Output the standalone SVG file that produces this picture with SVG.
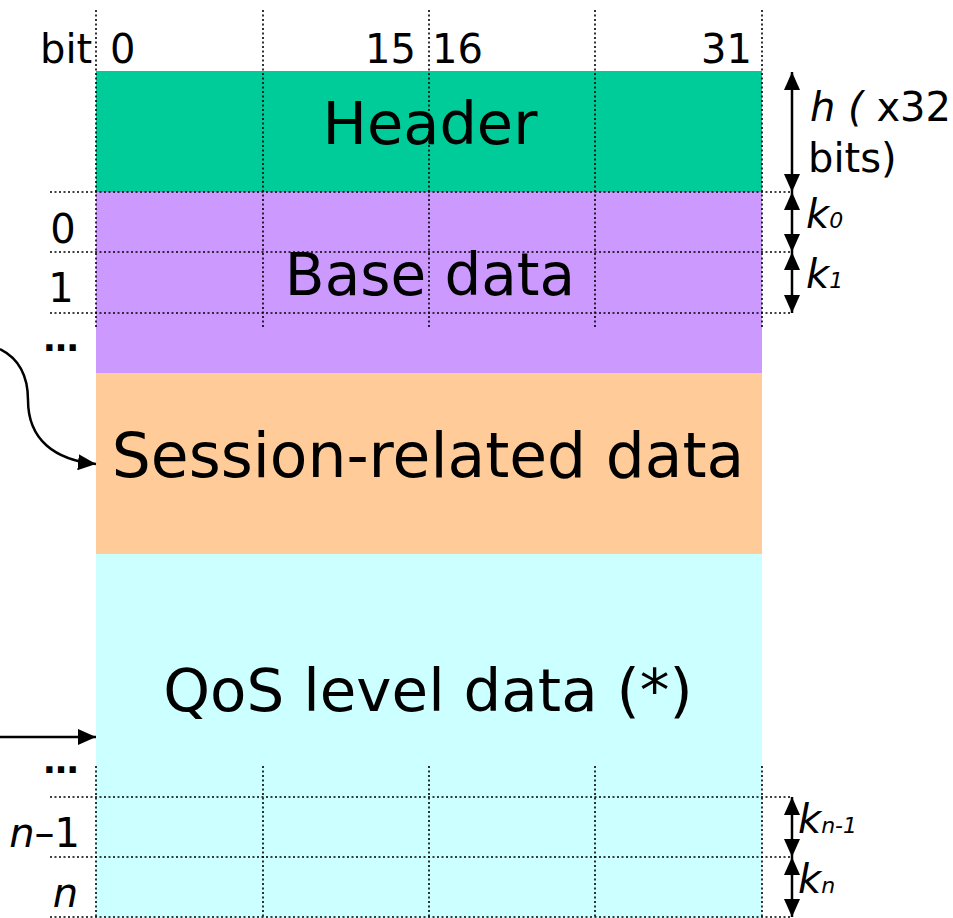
<svg xmlns="http://www.w3.org/2000/svg" width="953" height="918" viewBox="0 0 953 918">
<defs>
<marker id="ah" markerUnits="userSpaceOnUse" markerWidth="18" markerHeight="16" refX="18" refY="8" orient="auto-start-reverse">
<path d="M0,0 L18,8 L0,16 z" fill="#000"/>
</marker>
<style>
text{font-family:"DejaVu Sans","Liberation Sans",sans-serif;fill:#000}
.big{font-size:59px;text-anchor:middle}
.lbl{font-size:40px}
.dots{font-size:35px;text-anchor:middle;font-weight:bold}
.it{font-style:italic}
.sub{font-size:22px;font-style:italic}
.grid{stroke:#000;stroke-width:1.6;stroke-dasharray:2 2.5;fill:none}
.conn{stroke:#000;stroke-width:2.5;fill:none}
.dbl{marker-start:url(#ah);marker-end:url(#ah)}
.one{marker-end:url(#ah)}
</style>
</defs>
<rect width="953" height="918" fill="#fff"/>
<g id="header">
<rect x="96" y="71" width="666" height="121" fill="#00CC99"/>
<text class="big" x="430" y="144">Header</text>
</g>
<g id="base-data">
<rect x="96" y="192" width="666" height="181" fill="#CC99FF"/>
<text class="big" x="430" y="295" style="font-size:58px">Base data</text>
</g>
<g id="session-data">
<rect x="96" y="373" width="666" height="181" fill="#FFCC99"/>
<text class="big" x="428" y="477" style="font-size:61.5px">Session-related data</text>
</g>
<g id="qos-data">
<rect x="96" y="554" width="666" height="364" fill="#CCFFFF"/>
<text class="big" x="428" y="711" style="font-size:59.5px">QoS level data (*)</text>
</g>
<g id="grid">
<path class="grid" d="M96,10V327 M263,10V327 M429,10V327 M595,10V327 M762,10V327"/>
<path class="grid" d="M96,766V918 M263,766V918 M429,766V918 M595,766V918 M762,766V918"/>
<path class="grid" d="M50,192H792 M50,252H792 M50,313H792 M50,797H792 M50,857H792 M50,917H792"/>
</g>
<g id="bit-labels">
<text class="lbl" x="40" y="63">bit</text>
<text class="lbl" x="110" y="63">0</text>
<text class="lbl" x="416" y="63" text-anchor="end">15</text>
<text class="lbl" x="432" y="63">16</text>
<text class="lbl" x="752" y="63" text-anchor="end">31</text>
</g>
<g id="row-labels">
<text class="lbl" x="63" y="243" text-anchor="middle">0</text>
<text class="lbl" x="61" y="302" text-anchor="middle">1</text>
<text class="dots" x="61" y="351">…</text>
<text class="dots" x="61" y="773">…</text>
<text class="lbl" x="80" y="847" text-anchor="end"><tspan class="it">n</tspan>–1</text>
<text class="lbl it" x="78" y="907" text-anchor="end">n</text>
</g>
<g id="size-labels">
<text class="lbl" x="810" y="121"><tspan class="it">h (</tspan> x32</text>
<text class="lbl" x="808" y="172">bits)</text>
<text class="lbl" x="806" y="228"><tspan class="it">k</tspan><tspan class="sub">0</tspan></text>
<text class="lbl" x="806" y="288"><tspan class="it">k</tspan><tspan class="sub">1</tspan></text>
<text class="lbl" x="798" y="833"><tspan class="it">k</tspan><tspan class="sub">n-1</tspan></text>
<text class="lbl" x="798" y="893"><tspan class="it">k</tspan><tspan class="sub">n</tspan></text>
</g>
<g id="connectors">
<path class="conn dbl" d="M792,72V192"/>
<path class="conn dbl" d="M792,192V252"/>
<path class="conn dbl" d="M792,252V313"/>
<path class="conn dbl" d="M792,797V857"/>
<path class="conn dbl" d="M792,857V917"/>
<path class="conn one" d="M0,349 C22,360 28,380 28,400 C28,440 55,460 96,464"/>
<path class="conn one" d="M0,737H96"/>
</g>
</svg>
